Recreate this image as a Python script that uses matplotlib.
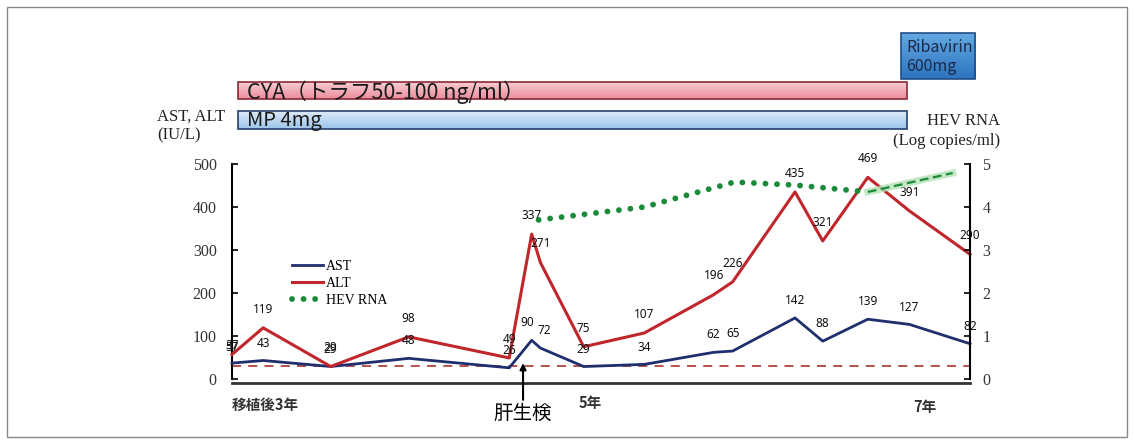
import numpy as np
import matplotlib
matplotlib.use('Agg')
import matplotlib.pyplot as plt
from matplotlib.patches import Rectangle
from matplotlib.colors import LinearSegmentedColormap

# time after transplant (years)
t = [3.0, 3.18, 3.57, 4.02, 4.6, 4.73, 4.78, 5.03, 5.38, 5.78, 5.89, 6.25, 6.41, 6.67, 6.91, 7.26]
alt = [57, 119, 29, 98, 49, 337, 271, 75, 107, 196, 226, 435, 321, 469, 391, 290]
ast = [37, 43, 29, 48, 26, 90, 72, 29, 34, 62, 65, 142, 88, 139, 127, 82]

# HEV RNA (log copies/ml)
hev_t = [4.77, 5.38, 5.9, 6.25, 6.67]
hev = [3.7, 4.0, 4.58, 4.51, 4.35]
hev_t2 = [6.67, 7.16]
hev2 = [4.35, 4.79]

uln = 30
biopsy_t = 4.68

year_ticks = [3.0, 5.07, 7.0]
year_labels = ['移植後3年', '5年', '7年']

treat_names = ['Ribavirin\n600mg', 'CYA（トラフ50-100 ng/ml）', 'MP 4mg']
treat_start = [6.86, 3.035, 3.035]
treat_end = [7.29, 6.895, 6.895]

W, H = 1135, 444
jp = ['Noto Sans CJK JP', 'DejaVu Sans']
serif = 'Liberation Serif'
plt.rcParams['font.family'] = jp

fig = plt.figure(figsize=(W / 100, H / 100), dpi=100)
ax = fig.add_axes([232 / W, (H - 379) / H, 738 / W, 215 / H])
ax2 = ax.twinx()
ax_top = fig.add_axes([232 / W, (H - 132) / H, 738 / W, 104 / H])

ast_c = '#1f2f6e'
alt_c = '#c0262b'
hev_c = '#1b8a3a'

l_ast, = ax.plot(t, ast, color=ast_c, lw=2, clip_on=False, zorder=3)
l_alt, = ax.plot(t, alt, color=alt_c, lw=2.2, clip_on=False, zorder=3)
ax.axhline(uln, color='#b0443a', lw=1.3, ls=(0, (5, 4)), zorder=2)

l_hev, = ax2.plot(hev_t, hev, color=hev_c, lw=4.2, ls=(0, (0.01, 1.97)),
                  dash_capstyle='round', clip_on=False)
ax2.plot(hev_t2, hev2, color='#b6e3b6', lw=5, alpha=0.8, clip_on=False)
ax2.plot(hev_t2, hev2, color=hev_c, lw=1.6, ls=(0, (4, 2)), clip_on=False)

# value labels
lab_kw = dict(textcoords='offset points', ha='center', va='center',
              fontsize=8.5, color='#111111', family='Noto Sans', annotation_clip=False)
for i in range(len(t)):
    dy = 5 if i == 0 else 13.5
    ax.annotate(str(alt[i]), (t[i], alt[i]), xytext=(0, dy), **lab_kw)
    dx = -3 if i == 5 else (3 if i == 6 else 0)
    ax.annotate(str(ast[i]), (t[i], ast[i]), xytext=(dx, 12.5), **lab_kw)

# biopsy arrow
ax.annotate('肝生検', xy=(biopsy_t, 37), xytext=(0, -36), textcoords='offset points',
            ha='center', va='center', fontsize=14, family=jp, annotation_clip=False,
            arrowprops=dict(arrowstyle='-|>', color='black', lw=1.5, mutation_scale=9,
                            shrinkA=0, shrinkB=0))

ax.set_xlim(3.0, 7.26)
ax.set_ylim(0, 500)
ax2.set_ylim(0, 5)
ax.set_yticks(range(0, 501, 100))
ax2.set_yticks(range(0, 6))
ax.tick_params(axis='y', direction='in', length=4, width=1.2, pad=11, labelsize=11.5)
ax2.tick_params(axis='y', direction='in', length=4, width=1.2, pad=9, labelsize=11.5)
for lbl in ax.get_yticklabels() + ax2.get_yticklabels():
    lbl.set_family(serif)
    lbl.set_color('#333333')

ax.set_xticks([])
year_y = [-61, -55, -64]
for i in range(len(year_ticks)):
    ax.text(year_ticks[i], year_y[i], year_labels[i], ha='left' if i == 0 else 'center',
            va='center', fontsize=10.5, fontweight='bold', color='#333333', family=jp,
            clip_on=False)

for a in (ax, ax2):
    a.spines['top'].set_visible(False)
ax.spines['right'].set_visible(False)
ax2.spines['left'].set_visible(False)
ax2.spines['bottom'].set_visible(False)
ax.spines['left'].set_linewidth(1.5)
ax2.spines['right'].set_linewidth(1.5)
ax.spines['bottom'].set_linewidth(2)
ax.spines['bottom'].set_color('#333333')
ax.spines['bottom'].set_position(('outward', 3))

ax.legend([l_ast, l_alt, l_hev], ['AST', 'ALT', 'HEV RNA'], loc='upper left',
          bbox_to_anchor=(0.074, 0.58), frameon=False, handlelength=2.2,
          handletextpad=0.2, labelspacing=0.3, borderaxespad=0,
          prop={'family': serif, 'size': 10})

# treatment bars
lane_y = [56, 91, 120]
lane_h = [46, 17, 18]
styles = [('#62a9e3', '#2d73bf', '#1f4f86', '#1a2a4a', 11.5, 0.03),
          ('#f8ccd3', '#ea8d9b', '#8c2a35', '#1a1a1a', 15.5, 0.05),
          ('#dbeaf8', '#9dc5ea', '#24406e', '#1a1a1a', 14.5, 0.05)]
for i in range(len(treat_names)):
    x0, x1 = treat_start[i], treat_end[i]
    yc, h = lane_y[i], lane_h[i]
    c_top, c_bot, ec, tc, fs, pad = styles[i]
    cmap = LinearSegmentedColormap.from_list('g%d' % i, [c_top, c_bot])
    img = ax_top.imshow(np.linspace(0, 1, 40).reshape(-1, 1), cmap=cmap, aspect='auto',
                        extent=(x0, x1, yc + h / 2, yc - h / 2), interpolation='bilinear')
    img.set_clip_on(False)
    ax_top.add_patch(Rectangle((x0, yc - h / 2), x1 - x0, h, fill=False, ec=ec, lw=1.2,
                               clip_on=False))
    ax_top.text(x0 + pad, yc + 1, treat_names[i], ha='left', va='center', fontsize=fs,
                family=jp, color=tc, linespacing=1.15, clip_on=False)
ax_top.set_xlim(3.0, 7.26)
ax_top.set_ylim(132, 28)
ax_top.axis('off')

# axis titles
fig.text(157 / W, 1 - 126 / H, 'AST, ALT\n(IU/L)', ha='left', va='center',
         family=serif, fontsize=12, linespacing=1.3, color='#222222')
fig.text(1000 / W, 1 - 131 / H, 'HEV RNA\n(Log copies/ml)', ha='right', va='center',
         multialignment='right', family=serif, fontsize=12, linespacing=1.3, color='#222222')

# outer frame
fig.patches.append(Rectangle((7 / W, 7 / H), 1120 / W, 430 / H, transform=fig.transFigure,
                             fill=False, ec='#888888', lw=1))

fig.savefig('out.png', dpi=100)
